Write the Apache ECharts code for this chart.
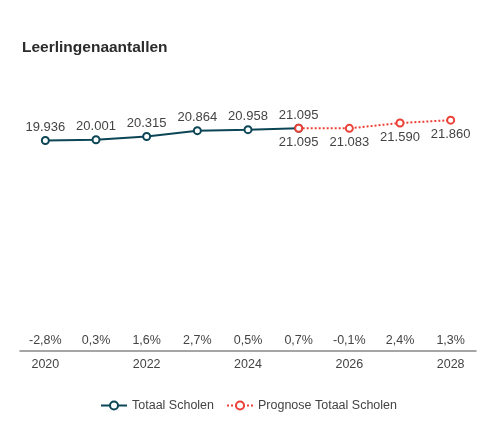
<!DOCTYPE html>
<html>
<head>
<meta charset="utf-8">
<script src="https://cdn.jsdelivr.net/npm/echarts@6/dist/echarts.min.js"></script>
<style>
  html, body { margin: 0; padding: 0; background: #fff; }
  #chart { width: 497px; height: 439px; }
</style>
</head>
<body>
<div id="chart"></div>
<script>
var years = ['2020', '2021', '2022', '2023', '2024', '2025', '2026', '2027', '2028'];
var totaal = [19936, 20001, 20315, 20864, 20958, 21095, null, null, null];
var prognose = [null, null, null, null, null, 21095, 21083, 21590, 21860];
var groei = ['-2,8%', '0,3%', '1,6%', '2,7%', '0,5%', '0,7%', '-0,1%', '2,4%', '1,3%'];

var chart = echarts.init(document.getElementById('chart'));

function fmt(v) {
	return String(v).replace(/\B(?=(\d{3})+(?!\d))/g, '.');
}

var font = 'Liberation Sans, Arial, sans-serif';

var option = {
	animation: false,
	textStyle: { fontFamily: font },
	title: {
		text: 'Leerlingenaantallen',
		left: 17,
		top: 35,
		textStyle: { fontSize: 15.5, fontWeight: 'bold', color: '#2b2b2b', fontFamily: font }
	},
	grid: { left: 20, right: 21, top: 87, bottom: 88 },
	legend: {
		bottom: 22,
		itemGap: 12,
		itemWidth: 26,
		itemHeight: 10,
		textStyle: { color: '#444', fontSize: 12.5 },
		data: ['Totaal Scholen', 'Prognose Totaal Scholen']
	},
	xAxis: [{
		type: 'category',
		data: years,
		axisLine: { lineStyle: { color: '#888', width: 1.5 } },
		axisTick: { show: false },
		axisLabel: { interval: 1, color: '#444', fontSize: 12.5, margin: 7 }
	}, {
		type: 'category',
		data: groei,
		position: 'bottom',
		axisLine: { show: false },
		axisTick: { show: false },
		axisLabel: { inside: true, interval: 0, color: '#444', fontSize: 12.5, margin: 4 }
	}],
	yAxis: {
		type: 'value',
		min: 0,
		max: 25000,
		show: false,
		splitLine: { show: false }
	},
	series: [{
		name: 'Totaal Scholen',
		type: 'line',
		data: totaal,
		symbol: 'emptyCircle',
		symbolSize: 7,
		color: '#0c4656',
		lineStyle: { width: 2, color: '#0c4656' },
		itemStyle: { borderWidth: 2 },
		label: { show: true, position: 'top', distance: 2, color: '#444', fontSize: 13, formatter: function(p) { return fmt(p.value); } }
	}, {
		name: 'Prognose Totaal Scholen',
		type: 'line',
		data: prognose,
		symbol: 'emptyCircle',
		symbolSize: 7,
		color: '#ec4136',
		lineStyle: { width: 2, type: [2, 2], color: '#ec4136' },
		itemStyle: { borderWidth: 2 },
		label: { show: true, position: 'bottom', distance: 3, color: '#444', fontSize: 13, formatter: function(p) { return fmt(p.value); } }
	}]
};

chart.setOption(option);
</script>
</body>
</html>
